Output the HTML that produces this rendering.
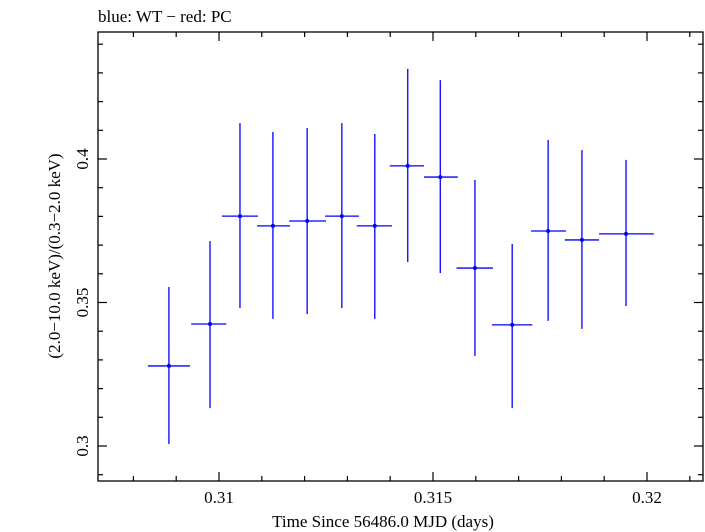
<!DOCTYPE html>
<html><head><meta charset="utf-8"><style>
html,body{margin:0;padding:0;background:#fff;}
svg{display:block;font-family:"Liberation Serif",serif;}
</style></head><body>
<svg id="chart" width="705" height="532" viewBox="0 0 705 532" xmlns="http://www.w3.org/2000/svg">
<text x="98" y="22" font-size="17">blue: WT − red: PC</text>
<rect x="98" y="32" width="605" height="449" fill="none" stroke="#000" stroke-width="1.3"/>
<g id="ticks"></g>
<g id="marks"></g>
<text x="383" y="527" font-size="17" text-anchor="middle">Time Since 56486.0 MJD (days)</text>
<text transform="translate(60,256) rotate(-90)" font-size="17" text-anchor="middle">(2.0−10.0 keV)/(0.3−2.0 keV)</text>
</svg>
<script>
const timeVals=[0.30883,0.30979,0.31049,0.31126,0.31206,0.31287,0.31364,0.31441,0.31517,0.31598,0.31685,0.31769,0.31848,0.31951];
const xLo=[0.30834,0.30935,0.31007,0.31089,0.31164,0.31248,0.31322,0.31399,0.31479,0.31555,0.31638,0.31729,0.31808,0.31888];
const xHi=[0.30932,0.31017,0.31091,0.31166,0.31250,0.31327,0.31404,0.31479,0.31558,0.31640,0.31732,0.31811,0.31888,0.32016];
const ratioVals=[0.3279,0.3425,0.3801,0.3767,0.3784,0.3801,0.3767,0.3976,0.3937,0.3620,0.3422,0.3749,0.3718,0.3739];
const ratioLo=[0.3007,0.3132,0.3481,0.3443,0.3460,0.3481,0.3443,0.3641,0.3603,0.3314,0.3132,0.3436,0.3408,0.3488];
const ratioHi=[0.3554,0.3714,0.4125,0.4094,0.4108,0.4125,0.4087,0.4314,0.4275,0.3927,0.3704,0.4066,0.4031,0.3997];
const xTickLabels=["0.31","0.315","0.32"];
const yTickLabels=["0.3","0.35","0.4"];
const L=98,R=703,T=32,B=481;
function sx(v){return 219+(v-0.31)*42800;}
function sy(v){return 446-(v-0.3)*2870;}
const NS="http://www.w3.org/2000/svg";
function el(tag,attrs,parent){const e=document.createElementNS(NS,tag);for(const k in attrs)e.setAttribute(k,attrs[k]);parent.appendChild(e);return e;}
const tg=document.getElementById('ticks');
for(let i=0;i<=15;i++){const v=0.307+i*0.001;const x=sx(v);if(x<=L||x>=R)continue;
 const major=Math.abs((v*1000)%5)<1e-6||Math.abs((v*1000)%5-5)<1e-6;const len=major?9:5;
 const a=el('line',{x1:x,x2:x,y1:B,y2:B-len,stroke:'#000','stroke-width':1.2},tg);
 
 const b=el('line',{x1:x,x2:x,y1:T,y2:T+len,stroke:'#000','stroke-width':1.2},tg);
 }
for(let i=0;i<=20;i++){const v=0.29+i*0.01;const y=sy(v);if(y<=T||y>=B)continue;
 const major=(i%5)===1;const len=major?9:5;
 const a=el('line',{x1:L,x2:L+len,y1:y,y2:y,stroke:'#000','stroke-width':1.2},tg);
 
 const b=el('line',{x1:R,x2:R-len,y1:y,y2:y,stroke:'#000','stroke-width':1.2},tg);
 }
xTickLabels.forEach(s=>{const t=el('text',{x:sx(parseFloat(s)),y:503,'font-size':17,'text-anchor':'middle'},tg);t.textContent=s;
 });
yTickLabels.forEach(s=>{const y=sy(parseFloat(s));const t=el('text',{transform:`translate(88,${y}) rotate(-90)`,'font-size':17,'text-anchor':'middle'},tg);t.textContent=s;
 });
const mg=document.getElementById('marks');
timeVals.forEach((t,i)=>{const x=sx(t),y=sy(ratioVals[i]);
 const h=el('line',{x1:sx(xLo[i]),x2:sx(xHi[i]),y1:y,y2:y,stroke:'#0000ff','stroke-width':1.3},mg);
 
 const v=el('line',{x1:x,x2:x,y1:sy(ratioLo[i]),y2:sy(ratioHi[i]),stroke:'#0000ff','stroke-width':1.3},mg);
 
 const c=el('circle',{cx:x,cy:y,r:2,fill:'#0000ff'},mg);
 });
</script>
</body></html>
